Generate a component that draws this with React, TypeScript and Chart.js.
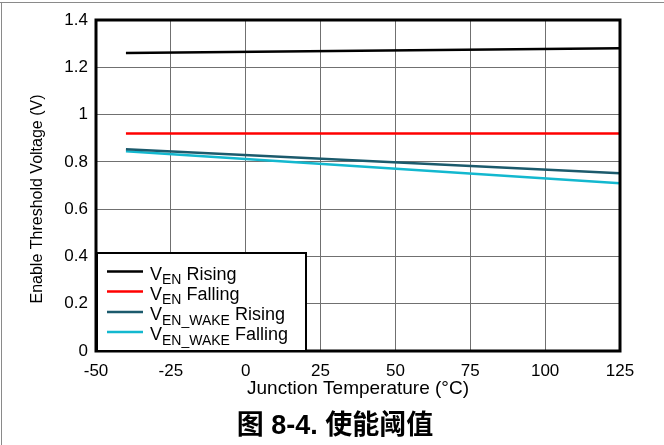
import React, { useEffect, useRef } from "react";
import { Chart, registerables } from "chart.js";
Chart.register(...registerables);

const temps = [-40, 125];
const venRising = [1.26, 1.28];
const venFalling = [0.92, 0.92];
const wakeRising = [0.853, 0.752];
const wakeFalling = [0.845, 0.71];
const seriesColors = ["#000000", "#ff0000", "#1b5a6c", "#13b8cf"];
const seriesLabels = [
  ["V", "EN", " Rising"],
  ["V", "EN", " Falling"],
  ["V", "EN_WAKE", " Rising"],
  ["V", "EN_WAKE", " Falling"],
];
const xTitle = "Junction Temperature (°C)";
const yTitle = "Enable Threshold Voltage (V)";
const caption = "图 8-4. 使能阈值";
const FONT = "'Liberation Sans', Arial, sans-serif";

const decor = {
  id: "decor",
  beforeDraw(chart: any) {
    const ctx = chart.ctx;
    ctx.save();
    ctx.fillStyle = "#fff";
    ctx.fillRect(0, 0, chart.width, chart.height);
    ctx.strokeStyle = "#8a8a8a";
    ctx.lineWidth = 1;
    ctx.beginPath();
    ctx.moveTo(0, 2.5);
    ctx.lineTo(chart.width, 2.5);
    ctx.moveTo(1.5, 2.5);
    ctx.lineTo(1.5, chart.height);
    ctx.stroke();
    ctx.restore();
  },
  afterDatasetsDraw(chart: any) {
    const ctx = chart.ctx;
    const a = chart.chartArea;
    ctx.save();
    ctx.strokeStyle = "#000";
    ctx.lineWidth = 3;
    ctx.strokeRect(a.left, a.top, a.right - a.left, a.bottom - a.top);
    // y axis title
    ctx.save();
    ctx.translate(38, 199);
    ctx.rotate(-Math.PI / 2);
    ctx.font = `16px ${FONT}`;
    ctx.fillStyle = "#000";
    ctx.textAlign = "center";
    ctx.textBaseline = "middle";
    ctx.fillText(yTitle, 0, 0);
    ctx.restore();
    // legend
    const lx = a.left + 1, ly = 253, lw = 209, lh = 98;
    ctx.fillStyle = "#fff";
    ctx.fillRect(lx, ly, lw, lh);
    ctx.strokeStyle = "#000";
    ctx.lineWidth = 2;
    ctx.strokeRect(lx, ly, lw, lh);
    const rows = [271.5, 291.5, 312, 332];
    rows.forEach((y, i) => {
      ctx.strokeStyle = seriesColors[i];
      ctx.lineWidth = 2.5;
      ctx.beginPath();
      ctx.moveTo(107, y);
      ctx.lineTo(143, y);
      ctx.stroke();
      const [a1, sub, rest] = seriesLabels[i];
      ctx.fillStyle = "#000";
      ctx.textBaseline = "alphabetic";
      ctx.textAlign = "left";
      ctx.font = `18px ${FONT}`;
      let x = 150;
      ctx.fillText(a1, x, y + 8);
      x += ctx.measureText(a1).width;
      ctx.font = `14px ${FONT}`;
      ctx.fillText(sub, x, y + 12.5);
      x += ctx.measureText(sub).width;
      ctx.font = `18px ${FONT}`;
      ctx.fillText(rest, x, y + 8);
    });
    // caption
    ctx.font = `bold 27px 'Liberation Sans Narrow', 'Liberation Sans', 'Noto Sans CJK SC', sans-serif`;
    ctx.textAlign = "center";
    ctx.textBaseline = "middle";
    ctx.fillStyle = "#000";
    ctx.fillText(caption, 335, 427);
    ctx.restore();
  },
};

export default function App() {
  const ref = useRef<HTMLCanvasElement>(null);
  useEffect(() => {
    const mk = (d: number[]) => temps.map((t, i) => ({ x: t, y: d[i] }));
    const datasets = [venRising, venFalling, wakeRising, wakeFalling].map((d, i) => ({
      label: seriesLabels[i].join(""),
      data: mk(d),
      borderColor: seriesColors[i],
      backgroundColor: seriesColors[i],
      borderWidth: 2.5,
      pointRadius: 0,
      tension: 0,
    }));
    const chart = new Chart(ref.current!, {
      type: "line",
      data: { datasets },
      plugins: [decor],
      options: {
        responsive: false,
        animation: false,
        layout: { padding: { left: 0, right: 44, top: 20, bottom: 0 } },
        plugins: { legend: { display: false }, tooltip: { enabled: false } },
        scales: {
          x: {
            type: "linear",
            min: -50,
            max: 125,
            afterFit: (s: any) => { s.height = 94; },
            ticks: { stepSize: 25, color: "#000", padding: 10, font: { family: FONT, size: 17 }, maxRotation: 0 },
            grid: { color: "#707070", lineWidth: 1, drawTicks: false },
            border: { display: false },
            title: { display: true, text: xTitle, color: "#000", font: { family: FONT, size: 19 }, padding: { top: 0, bottom: 45 } },
          },
          y: {
            type: "linear",
            min: 0,
            max: 1.4,
            afterFit: (s: any) => { s.width = 96; },
            ticks: {
              stepSize: 0.2,
              color: "#000",
              padding: 8,
              font: { family: FONT, size: 17 },
              callback: (v: any) => String(Number(Number(v).toFixed(1))),
            },
            grid: { color: "#707070", lineWidth: 1, drawTicks: false },
            border: { display: false },
            title: { display: false },
          },
        },
      },
    });
    return () => chart.destroy();
  }, []);
  return (
    <div style={{ position: "absolute", left: 0, top: 0, width: 664, height: 445 }}>
      <canvas ref={ref} width={664} height={445} style={{ display: "block" }} />
    </div>
  );
}
